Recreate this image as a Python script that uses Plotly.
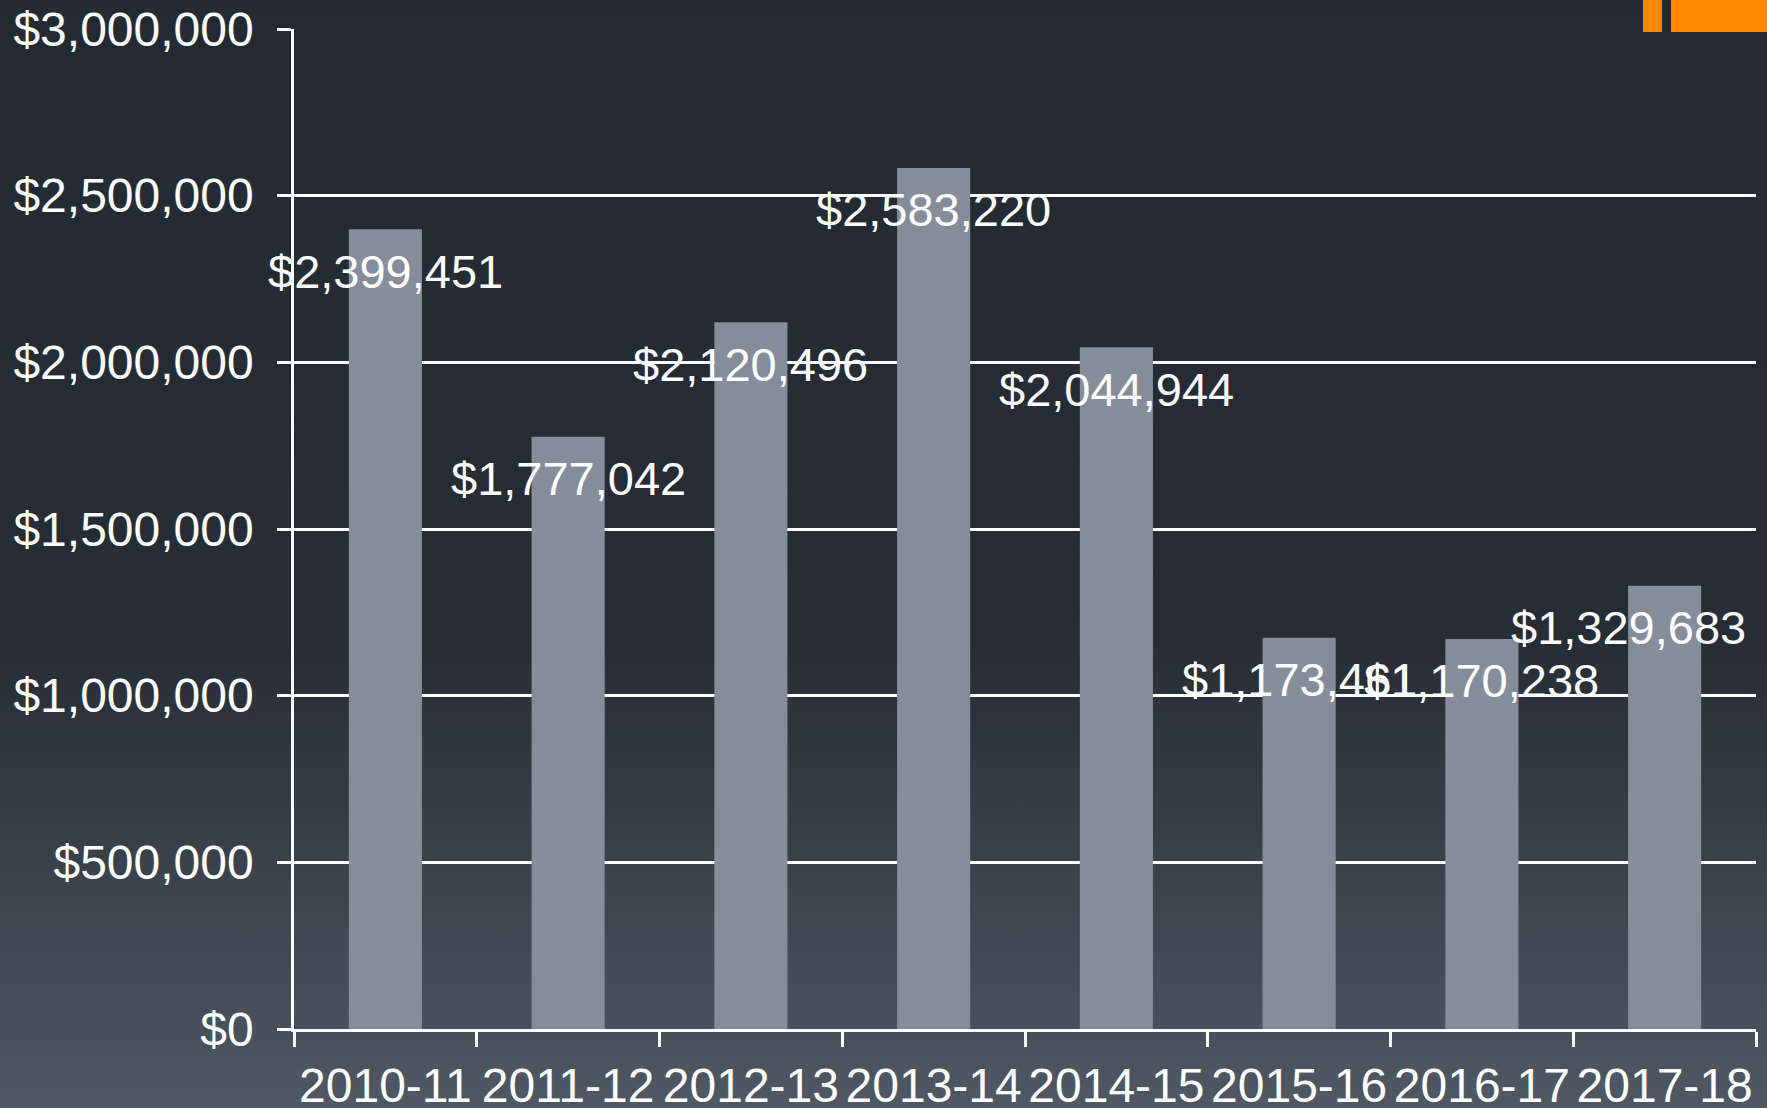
import base64
import plotly.graph_objects as go

# ---- data ----
categories = ["2010-11", "2011-12", "2012-13", "2013-14", "2014-15", "2015-16", "2016-17", "2017-18"]
values = [2399451, 1777042, 2120496, 2583220, 2044944, 1173461, 1170238, 1329683]
labels = ["$2,399,451", "$1,777,042", "$2,120,496", "$2,583,220", "$2,044,944",
          "$1,173,461", "$1,170,238", "$1,329,683"]
y_tickvals = [0, 500000, 1000000, 1500000, 2000000, 2500000, 3000000]
y_ticktext = ["$0", "$500,000", "$1,000,000", "$1,500,000", "$2,000,000", "$2,500,000", "$3,000,000"]

W, H = 1767, 1108
ML, MR, MT, MB = 294, 11, 29, 79
PW, PH = W - ML - MR, H - MT - MB

FONT = "Liberation Sans, Arial, sans-serif"
BAR = "#858d9b"

svg = (
    '<svg xmlns="http://www.w3.org/2000/svg" width="100" height="100" preserveAspectRatio="none">'
    '<defs><linearGradient id="g" x1="0" y1="0" x2="0" y2="1">'
    '<stop offset="0" stop-color="#232a32"/>'
    '<stop offset="0.58" stop-color="#262d35"/>'
    '<stop offset="1" stop-color="#4f5863"/>'
    '</linearGradient></defs>'
    '<rect x="0" y="0" width="100" height="100" fill="url(#g)"/></svg>'
)
bg_src = "data:image/svg+xml;base64," + base64.b64encode(svg.encode()).decode()

fig = go.Figure()
fig.add_trace(go.Bar(x=categories, y=values, width=0.4, marker=dict(color=BAR, line=dict(width=0)),
                     hoverinfo="skip"))

annotations = []
for i, (c, v, t) in enumerate(zip(categories, values, labels)):
    annotations.append(dict(
        x=c, y=v, text=t, showarrow=False, yshift=-42,
        xshift=(-36 if i == len(categories) - 1 else 0),
        font=dict(family=FONT, size=47, color="white"),
    ))

fig.update_layout(
    width=W, height=H,
    margin=dict(l=ML, r=MR, t=MT, b=MB, pad=0),
    template="none",
    paper_bgcolor="#242b33",
    plot_bgcolor="rgba(0,0,0,0)",
    showlegend=False,
    font=dict(family=FONT, size=48, color="white"),
    annotations=annotations,
    images=[dict(
        source=bg_src, xref="paper", yref="paper",
        x=-ML / PW, y=1 + MT / PH, sizex=W / PW, sizey=H / PH,
        xanchor="left", yanchor="top", sizing="stretch", layer="below",
    )],
    shapes=[
        dict(type="rect", xref="paper", yref="paper", layer="below",
             x0=(1643 - ML) / PW, x1=(1662 - ML) / PW, y0=1 - 3 / PH, y1=1 + MT / PH,
             fillcolor="#ff8800", line=dict(width=0)),
        dict(type="rect", xref="paper", yref="paper", layer="below",
             x0=(1671 - ML) / PW, x1=(W - ML) / PW, y0=1 - 3 / PH, y1=1 + MT / PH,
             fillcolor="#ff8800", line=dict(width=0)),
    ],
    xaxis=dict(
        type="category",
        range=[-0.5, len(categories) - 0.5],
        showline=True, linecolor="white", linewidth=2.5,
        ticks="outside", tickson="boundaries", ticklen=15, tickwidth=2.5, tickcolor="white",
        showgrid=False, zeroline=False, automargin=False,
        tickangle=0,
        tickfont=dict(family=FONT, size=48, color="white"),
        ticklabelstandoff=13,
    ),
    yaxis=dict(
        range=[0, 3000000],
        tickvals=y_tickvals, ticktext=y_ticktext,
        showline=True, linecolor="white", linewidth=2.5,
        ticks="outside", ticklen=14, tickwidth=2.5, tickcolor="white",
        showgrid=True, gridcolor="white", gridwidth=2.5,
        zeroline=False, automargin=False,
        tickfont=dict(family=FONT, size=48, color="white"),
        ticklabelstandoff=14,
    ),
)

fig.write_html("out.html", config={"displayModeBar": False},
               post_script="document.body.style.margin='0';document.body.style.overflow='hidden';")
